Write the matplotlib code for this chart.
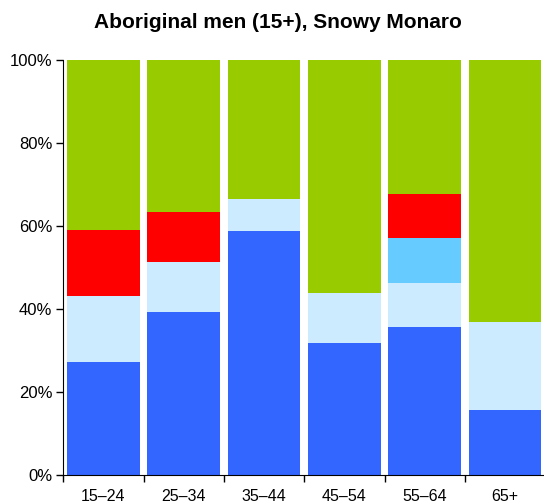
import numpy as np
import matplotlib.pyplot as plt

plt.rcParams['font.family'] = ['Liberation Sans', 'DejaVu Sans']

# Age groups and share of each category (%), bottom to top
age_groups = ['15–24', '25–34', '35–44', '45–54', '55–64', '65+']
series_1 = [27.3, 39.3, 58.9, 31.9, 35.7, 15.8]
series_2 = [15.9, 12.2, 7.8, 12.1, 10.6, 21.0]
series_3 = [0.0, 0.0, 0.0, 0.0, 10.8, 0.0]
series_4 = [15.9, 12.0, 0.0, 0.0, 10.8, 0.0]
series_5 = [40.9, 36.5, 33.3, 56.0, 32.1, 63.2]

colors = ['#3366FF', '#CCEBFF', '#66CCFF', '#FF0000', '#99CC00']

fig = plt.figure(figsize=(5.44, 5.04), dpi=100)
ax = fig.add_axes([0.1164, 0.0575, 0.886, 0.8225])

x = np.arange(len(age_groups))
bottom = np.zeros(len(age_groups))
for vals, c in zip([series_1, series_2, series_3, series_4, series_5], colors):
    ax.bar(x, vals, width=0.905, bottom=bottom, color=c, linewidth=0)
    bottom += np.array(vals)

ax.set_xlim(-0.5, len(age_groups) - 0.5)
ax.set_ylim(0, 100)
ax.set_yticks([0, 20, 40, 60, 80, 100])
ax.set_yticklabels([f'{v}%' for v in [0, 20, 40, 60, 80, 100]], fontsize=12)
ax.set_xticks(x)
ax.set_xticklabels(age_groups, fontsize=11.5)
ax.set_xticks(np.arange(-0.5, len(age_groups)), minor=True)
ax.tick_params(axis='x', which='major', length=0, pad=10)
ax.tick_params(axis='x', which='minor', length=5, width=1)
ax.tick_params(axis='y', length=5, width=1, pad=3)

for s in ['top', 'right']:
    ax.spines[s].set_visible(False)

fig.text(278 / 544, 1 - 22 / 504, 'Aboriginal men (15+), Snowy Monaro',
         ha='center', va='center', fontsize=15, fontweight='bold')

fig.savefig('out.png', dpi=100)
